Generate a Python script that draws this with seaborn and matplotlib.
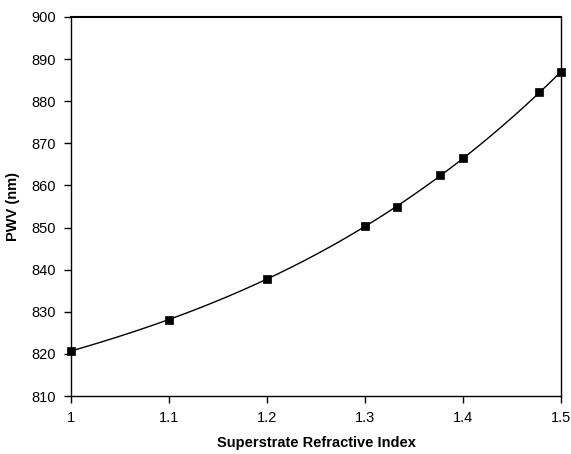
import matplotlib
matplotlib.use("Agg")
import matplotlib.pyplot as plt
import seaborn as sns
import numpy as np
import pandas as pd

x_vals = [1.0, 1.1, 1.2, 1.3, 1.333, 1.377, 1.4, 1.478, 1.5]
pwv_vals = [820.7, 828.1, 837.9, 850.4, 854.8, 862.4, 866.5, 882.2, 886.9]
x_ticks = [1, 1.1, 1.2, 1.3, 1.4, 1.5]
x_ticklabels = ["1", "1.1", "1.2", "1.3", "1.4", "1.5"]
y_ticks = [810, 820, 830, 840, 850, 860, 870, 880, 890, 900]

sns.set_theme(style="white")
plt.rcParams['font.family'] = ['Liberation Sans', 'DejaVu Sans']
plt.rcParams['text.color'] = 'black'
plt.rcParams['axes.labelcolor'] = 'black'

df = pd.DataFrame({"n": x_vals, "pwv": pwv_vals})

fig = plt.figure(figsize=(5.71, 4.54), dpi=100)
ax = fig.add_axes([71/571, 1-396/454, 490/571, 379/454])

sns.regplot(data=df, x="n", y="pwv", order=3, ci=None, ax=ax,
            marker="s", color="black",
            scatter_kws={"s": 36, "zorder": 3, "clip_on": False, "alpha": 1.0,
                         "edgecolors": "black", "linewidths": 0.5},
            line_kws={"lw": 1.0, "color": "black"})

ax.set_xlim(1, 1.5)
ax.set_ylim(810, 900)
ax.set_xticks(x_ticks)
ax.set_xticklabels(x_ticklabels)
ax.set_yticks(y_ticks)
ax.tick_params(axis="both", direction="out", length=5, width=1, color="black",
               labelsize=10.5, labelcolor="black", bottom=True, left=True, pad=6)
for s in ax.spines.values():
    s.set_visible(True)
    s.set_color("black")
    s.set_linewidth(1.0)
ax.spines["top"].set_linewidth(1.5)

ax.set_xlabel("Superstrate Refractive Index", fontsize=10.5, fontweight="bold",
              labelpad=8, color="black")
ax.set_ylabel("PWV (nm)", fontsize=10.5, fontweight="bold", labelpad=8, color="black")

fig.savefig("out.png", dpi=100)
